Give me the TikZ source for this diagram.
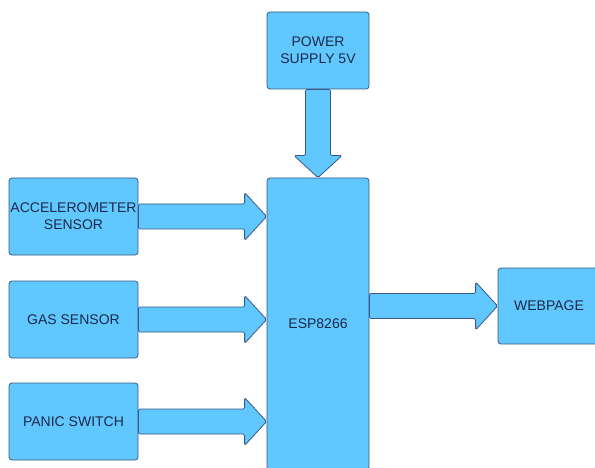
\documentclass[tikz,border=0pt]{standalone}
\usepackage{fontspec}
\setmainfont{Liberation Sans}
\usetikzlibrary{calc}
\definecolor{boxfill}{RGB}{96,200,255}
\definecolor{boxline}{RGB}{58,88,130}
\definecolor{boxtext}{RGB}{28,40,72}
% fat arrow from #1 to #2
\newcommand\fatarrow[2]{%
\coordinate (hb) at ($(#2)!22pt!(#1)$);
\draw[fatarr] ($(#1)!12.5pt!90:(#2)$) -- ($(hb)!12.5pt!90:(#2)$) -- ($(hb)!24pt!90:(#2)$) -- (#2)
 -- ($(hb)!24pt!-90:(#2)$) -- ($(hb)!12.5pt!-90:(#2)$) -- ($(#1)!12.5pt!-90:(#2)$) -- cycle;}
\begin{document}
\begin{tikzpicture}[x=1pt, y=-1pt,
blk/.style={draw=boxline, fill=boxfill, line width=0.8pt, rounded corners=3pt, inner sep=0pt,
 align=center, text=boxtext, font=\fontsize{14}{17}\selectfont, minimum width=102pt, minimum height=77pt},
fatarr/.style={draw=boxline, fill=boxfill, line width=0.8pt, rounded corners=1.5pt, line join=round}]
\useasboundingbox (0,0) rectangle (595,468);
\node[blk] (pow) at (318,50.5){POWER\\SUPPLY 5V};
\node[blk, minimum height=292pt] (esp) at (318,324){ESP8266};
\node[blk, minimum width=129pt] (acc) at (73.5,216.5){ACCELEROMETER\\SENSOR};
\node[blk, minimum width=129pt] (gas) at (73.5,319.5){GAS SENSOR};
\node[blk, minimum width=129pt] (pan) at (73.5,421.5){PANIC SWITCH};
\node[blk, minimum height=76pt] (web) at (549,306){WEBPAGE};
\coordinate (accin) at (esp.west |- acc.east);
\coordinate (gasin) at (esp.west |- gas.east);
\coordinate (panin) at (esp.west |- pan.east);
\coordinate (espout) at (esp.east |- web.west);
\fatarrow{pow.south}{esp.north}
\fatarrow{acc.east}{accin}
\fatarrow{gas.east}{gasin}
\fatarrow{pan.east}{panin}
\fatarrow{espout}{web.west}
\end{tikzpicture}
\end{document}
